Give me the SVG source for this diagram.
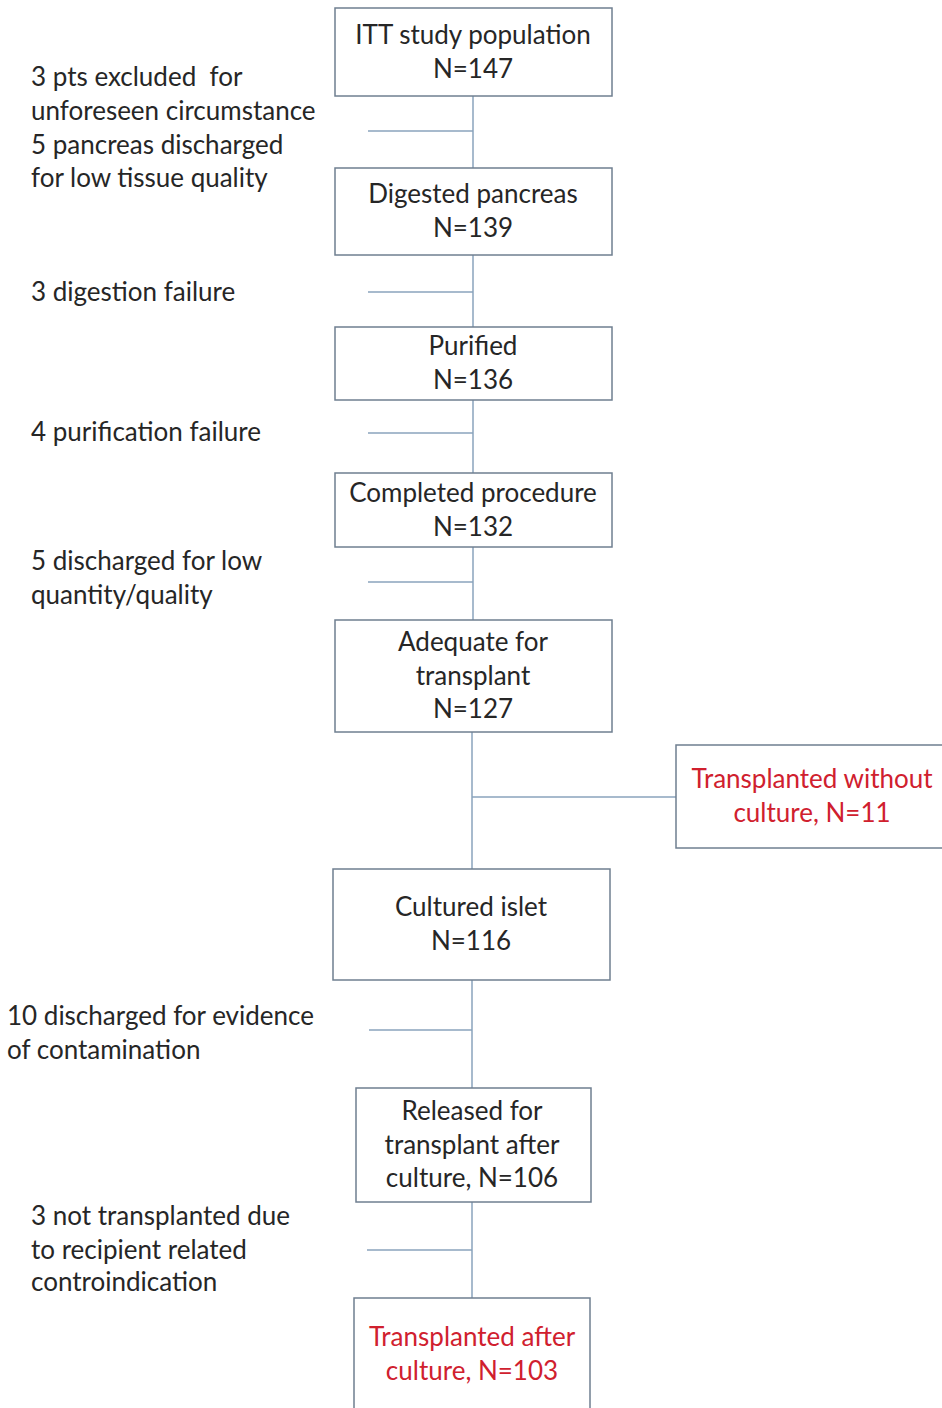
<svg xmlns="http://www.w3.org/2000/svg" width="942" height="1408" viewBox="0 0 942 1408">
<style>
.box{fill:#fff;stroke:#6f7f90;stroke-width:1.5}
.ln{stroke:#8aa4bd;stroke-width:1.5;fill:none}
text{font-family:Lato,"Open Sans",sans-serif;font-size:26px;fill:#262626}
.c{text-anchor:middle}
.red{fill:#d0202e}
.pre{white-space:pre}
</style>
<rect width="942" height="1408" fill="#fff"/>
<g id="connectors">
<path class="ln" d="M473 96V168M368 131H473"/>
<path class="ln" d="M473 255V327M368 292H473"/>
<path class="ln" d="M473 400V473M368 433H473"/>
<path class="ln" d="M473 547V620M368 582H473"/>
<path class="ln" d="M472 732V869M472 797H676"/>
<path class="ln" d="M472 980V1088M369 1030H472"/>
<path class="ln" d="M472 1202V1298M367 1250H472"/>
</g>
<g id="n1"><rect class="box" x="335" y="8" width="277" height="88"/><text class="c" x="473" y="44">ITT study population</text><text class="c" x="473" y="78">N=147</text></g>
<g id="n2"><rect class="box" x="335" y="168" width="277" height="87"/><text class="c" x="473" y="203">Digested pancreas</text><text class="c" x="473" y="237">N=139</text></g>
<g id="n3"><rect class="box" x="335" y="327" width="277" height="73"/><text class="c" x="473" y="355">Purified</text><text class="c" x="473" y="389">N=136</text></g>
<g id="n4"><rect class="box" x="335" y="473" width="277" height="74"/><text class="c" x="473" y="502">Completed procedure</text><text class="c" x="473" y="536">N=132</text></g>
<g id="n5"><rect class="box" x="335" y="620" width="277" height="112"/><text class="c" x="473" y="651">Adequate for</text><text class="c" x="473" y="685">transplant</text><text class="c" x="473" y="718">N=127</text></g>
<g id="n6"><rect class="box" x="676" y="745" width="270" height="103"/><text class="c red" x="812" y="788">Transplanted without</text><text class="c red" x="812" y="822">culture, N=11</text></g>
<g id="n7"><rect class="box" x="333" y="869" width="277" height="111"/><text class="c" x="471" y="916">Cultured islet</text><text class="c" x="471" y="950">N=116</text></g>
<g id="n8"><rect class="box" x="356" y="1088" width="235" height="114"/><text class="c" x="472" y="1120">Released for</text><text class="c" x="472" y="1154">transplant after</text><text class="c" x="472" y="1187">culture, N=106</text></g>
<g id="n9"><rect class="box" x="354" y="1298" width="236" height="120"/><text class="c red" x="472" y="1346">Transplanted after</text><text class="c red" x="472" y="1380">culture, N=103</text></g>
<g id="labels">
<text class="pre" x="31" y="86">3 pts excluded  for</text>
<text x="31" y="120">unforeseen circumstance</text>
<text x="31" y="154">5 pancreas discharged</text>
<text x="31" y="187">for low tissue quality</text>
<text x="31" y="301">3 digestion failure</text>
<text x="31" y="441">4 purification failure</text>
<text x="31" y="570">5 discharged for low</text>
<text x="31" y="604">quantity/quality</text>
<text x="7" y="1025">10 discharged for evidence</text>
<text x="7" y="1059">of contamination</text>
<text x="31" y="1225">3 not transplanted due</text>
<text x="31" y="1259">to recipient related</text>
<text x="31" y="1291">controindication</text>
</g>
</svg>
